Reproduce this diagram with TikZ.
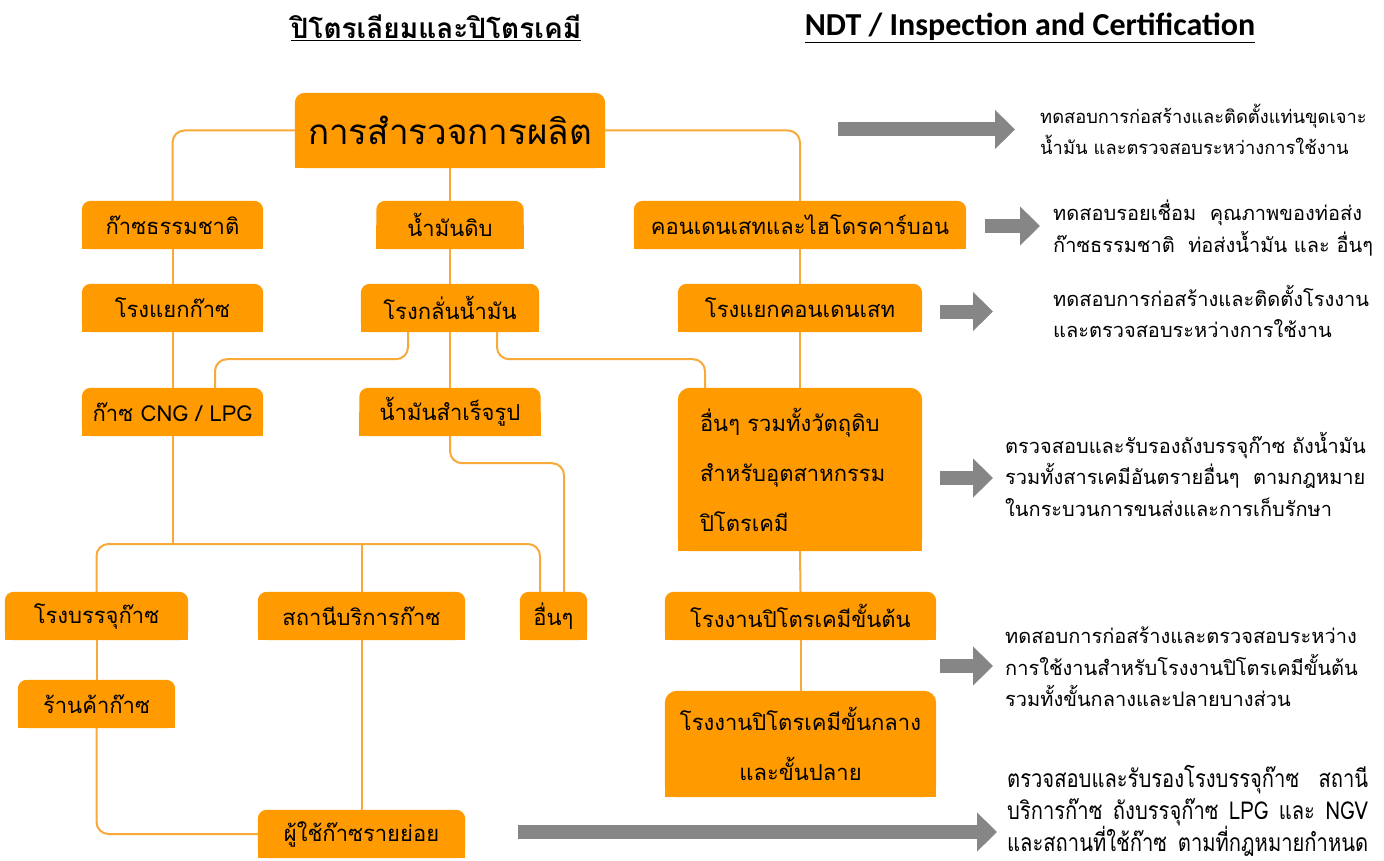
\documentclass[tikz,border=0pt]{standalone}
\usepackage{fontspec}
\setmainfont[Script=Thai]{Loma}
\newfontfamily\thaicond[Script=Thai,FakeStretch=0.82]{Loma}
\newfontfamily\carlito{Carlito}
\usetikzlibrary{calc,arrows.meta}
\definecolor{boxorange}{HTML}{FF9A00}
\definecolor{lineorange}{HTML}{F7A93A}
\definecolor{arrowgray}{HTML}{868686}
\pgfdeclarelayer{bg}
\pgfsetlayers{bg,main}
\newcommand\obox[2][9pt]{%
  \fill[boxorange,rounded corners=#1] (#2.south west) rectangle (#2.north east);
  \fill[boxorange] (#2.south west) rectangle (#2.east);}
\begin{document}
\begin{tikzpicture}[x=1pt,y=-1pt,
  box/.style={inner sep=0pt, minimum height=48pt, text=black,
    font=\fontsize{22}{26}\selectfont},
  conn/.style={draw=lineorange, line width=2pt, rounded corners=12pt},
  desc/.style={anchor=west, align=left, inner sep=0pt,
    font=\fontsize{20}{31.5}\selectfont},
  garrow/.style={draw=arrowgray, line width=14pt,
    -{Triangle[length=20pt,width=38pt]}},
  head/.style={inner sep=0pt, font=\fontsize{28}{30}\selectfont\bfseries}
]
\useasboundingbox (0,0) rectangle (1384,861);

% headings
\node[head] (h1) at (436,28) {\underline{ปิโตรเลียมและปิโตรเคมี}};
\node[head, font=\carlito\fontsize{32}{34}\selectfont\bfseries] (h2) at (1030,28) {\underline{NDT / Inspection and Certification}};

% boxes
\node[box, minimum width=310pt, minimum height=75pt, font=\fontsize{35}{40}\selectfont] (top) at (450,130.5) {การสำรวจการผลิต};
\node[box, minimum width=181pt] (gas) at (172.5,225) {ก๊าซธรรมชาติ};
\node[box, minimum width=147pt] (crude) at (450,225) {น้ำมันดิบ};
\node[box, minimum width=332pt] (cond) at (800,225) {คอนเดนเสทและไฮโดรคาร์บอน};
\node[box, minimum width=181pt] (gsp) at (172.5,308) {โรงแยกก๊าซ};
\node[box, minimum width=178pt] (refinery) at (450,308) {โรงกลั่นน้ำมัน};
\node[box, minimum width=244pt] (condsep) at (800,308) {โรงแยกคอนเดนเสท};
\node[box, minimum width=181pt] (cng) at (172.5,412) {ก๊าซ CNG / LPG};
\node[box, minimum width=181pt] (fuel) at (450,412) {น้ำมันสำเร็จรูป};
\node[box, minimum width=244pt, minimum height=163pt, inner xsep=22pt, text width=200pt, align=left,
  font=\fontsize{22}{50}\selectfont] (petro) at (800,469.5) {อื่นๆ รวมทั้งวัตถุดิบ\\สำหรับอุตสาหกรรม\\ปิโตรเคมี};
\node[box, minimum width=183pt] (bottling) at (96.5,616) {โรงบรรจุก๊าซ};
\node[box, minimum width=207pt] (station) at (361.5,616) {สถานีบริการก๊าซ};
\node[box, minimum width=67pt] (others) at (553.5,616) {อื่นๆ};
\node[box, minimum width=271pt] (upstream) at (800.5,616) {โรงงานปิโตรเคมีขั้นต้น};
\node[box, minimum width=157pt] (shop) at (96.5,704) {ร้านค้าก๊าซ};
\node[box, minimum width=271pt, minimum height=106pt, align=center,
  font=\fontsize{22}{50}\selectfont] (downstream) at (800.5,744) {โรงงานปิโตรเคมีขั้นกลาง\\และขั้นปลาย};
\node[box, minimum width=207pt] (user) at (361.5,834) {ผู้ใช้ก๊าซรายย่อย};

\coordinate (hub) at (172.5,544);

\begin{pgfonlayer}{bg}
\obox[10pt]{top}
\obox{gas}\obox{crude}\obox{cond}
\obox{gsp}\obox{refinery}\obox{condsep}
\obox{cng}\obox{fuel}\obox[12pt]{petro}
\obox{bottling}\obox{station}\obox{others}\obox{upstream}
\obox{shop}\obox[12pt]{downstream}\obox{user}
\end{pgfonlayer}

% connectors
\draw[conn] (top.west) -| (gas.north);
\draw[conn] (top.east) -| (cond.north);
\draw[conn] (top.south) -- (crude.north);
\draw[conn] (gas.south) -- (gsp.north);
\draw[conn] (gsp.south) -- (cng.north);
\draw[conn] (crude.south) -- (refinery.north);
\draw[conn] (cond.south) -- (condsep.north);
\draw[conn] (condsep.south) -- (petro.north);
\draw[conn] (refinery.south) -- (fuel.north);
\draw[conn] ([xshift=-42pt]refinery.south) -- ++(0,27) -| ([xshift=42.5pt]cng.north);
\draw[conn] ([xshift=47pt]refinery.south) -- ++(0,27) -| ([xshift=-95pt]petro.north);
\draw[conn] (cng.south) -- (hub);
\draw[conn] (bottling.north) |- (hub) -| ([xshift=-13.5pt]others.north);
\draw[conn] (station.north) -- (station.north |- hub);
\draw[conn] (fuel.south) -- ++(0,27) -| ([xshift=10.5pt]others.north);
\draw[conn] (bottling.south) -- (shop.north);
\draw[conn] (shop.south) |- (user.west);
\draw[conn] (station.south) -- (user.north);
\draw[conn] (petro.south) -- (upstream.north);
\draw[conn] (upstream.south) -- (downstream.north);

% descriptions
\node[desc, font=\fontsize{18.3}{31.5}\selectfont] (d1) at (1040,129.5) {ทดสอบการก่อสร้างและติดตั้งแท่นขุดเจาะ\\น้ำมัน และตรวจสอบระหว่างการใช้งาน};
\node[desc] (d2) at (1053,228) {ทดสอบรอยเชื่อม\ \ คุณภาพของท่อส่ง\\ก๊าซธรรมชาติ\ \ ท่อส่งน้ำมัน และ อื่นๆ};
\node[desc] (d3) at (1053,311.5) {ทดสอบการก่อสร้างและติดตั้งโรงงาน\\และตรวจสอบระหว่างการใช้งาน};
\node[desc] (d4) at (1005,474) {ตรวจสอบและรับรองถังบรรจุก๊าซ ถังน้ำมัน\\รวมทั้งสารเคมีอันตรายอื่นๆ\ \ ตามกฎหมาย\\ในกระบวนการขนส่งและการเก็บรักษา};
\node[desc] (d5) at (1005,667) {ทดสอบการก่อสร้างและตรวจสอบระหว่าง\\การใช้งานสำหรับโรงงานปิโตรเคมีขั้นต้น\\รวมทั้งขั้นกลางและปลายบางส่วน};
\node[desc, font=\thaicond\fontsize{24.6}{32}\selectfont] (d6) at (1007,811) {%
\makebox[361pt][s]{ตรวจสอบและรับรองโรงบรรจุก๊าซ\ \ สถานี}\\
\makebox[361pt][s]{บริการก๊าซ ถังบรรจุก๊าซ LPG และ NGV}\\
\makebox[361pt][s]{และสถานที่ใช้ก๊าซ ตามที่กฎหมายกำหนด}};

% block arrows
\draw[garrow] ($(d1.west)+(-202,0)$) -- ($(d1.west)+(-25,0)$);
\draw[garrow] ($(d2.west)+(-68,-2)$) -- ($(d2.west)+(-13,-2)$);
\draw[garrow] ($(d3.west)+(-113,0)$) -- ($(d3.west)+(-60,0)$);
\draw[garrow] ($(d4.west)+(-65,4)$) -- ($(d4.west)+(-12,4)$);
\draw[garrow] ($(d5.west)+(-65,-1)$) -- ($(d5.west)+(-12,-1)$);
\draw[garrow] ([xshift=53pt,yshift=2pt]user.east) -- ($(user.east -| d6.west)+(-10,-2)$);
\end{tikzpicture}
\end{document}
